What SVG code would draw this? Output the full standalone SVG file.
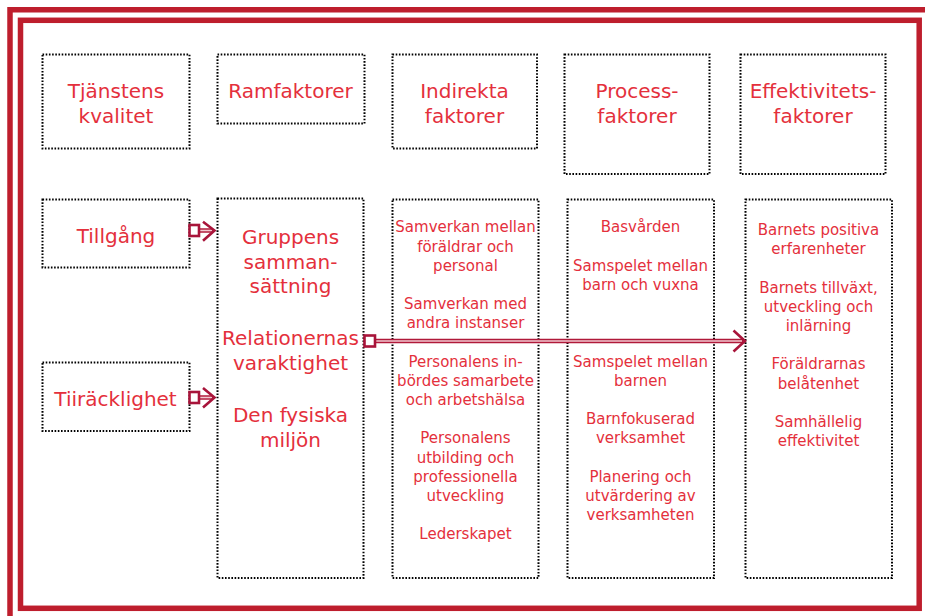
<svg xmlns="http://www.w3.org/2000/svg" width="925" height="616" viewBox="0 0 925 616">
<defs>
<style>
.frame{fill:none;stroke:#be1e2d;stroke-width:5.5}
.box{fill:none;stroke:#000;stroke-width:2;stroke-dasharray:1.6 1.6}
.t{font-family:"DejaVu Sans",sans-serif;fill:#e4303c;text-anchor:middle}
.h{font-size:20px}
.s{font-size:15px}
.ln-o{fill:none;stroke:#b0193a;stroke-width:4.5}
.ln-i{fill:none;stroke:#f2c9d1;stroke-width:1.6}
.sq{fill:#fff;stroke:#a8143a;stroke-width:2.6}
.chev{fill:none;stroke:#a8143a;stroke-width:2.6;stroke-linejoin:miter}
</style>
</defs>
<rect width="925" height="616" fill="#fff"/>
<path class="frame" d="M10,616 V9.8 H925"/>
<rect class="frame" x="20.5" y="20.3" width="898.7" height="588"/>

<g id="n-tjanstens">
<rect class="box" x="42.5" y="54.5" width="147" height="94"/>
<text class="t h" x="116" y="98.3">Tjänstens</text>
<text class="t h" x="116" y="123.3">kvalitet</text>
</g>
<g id="n-ramfaktorer">
<rect class="box" x="217.5" y="54.5" width="147" height="69"/>
<text class="t h" x="290.5" y="98.3">Ramfaktorer</text>
</g>
<g id="n-indirekta">
<rect class="box" x="392.5" y="54.5" width="144.5" height="94"/>
<text class="t h" x="464.5" y="98.3">Indirekta</text>
<text class="t h" x="464.5" y="123.3">faktorer</text>
</g>
<g id="n-process">
<rect class="box" x="564.5" y="54.5" width="145" height="119.5"/>
<text class="t h" x="637" y="98.3">Process-</text>
<text class="t h" x="637" y="123.3">faktorer</text>
</g>
<g id="n-effektivitet">
<rect class="box" x="740.5" y="54.5" width="145" height="119.5"/>
<text class="t h" x="813" y="98.3">Effektivitets-</text>
<text class="t h" x="813" y="123.3">faktorer</text>
</g>

<g id="n-tillgang">
<rect class="box" x="42.5" y="199.5" width="147" height="68"/>
<text class="t h" x="116" y="243.3">Tillgång</text>
</g>
<g id="n-tillracklighet">
<rect class="box" x="42.5" y="362.5" width="147" height="68.5"/>
<text class="t h" x="115.5" y="406">Tiiräcklighet</text>
</g>

<g id="n-ram-col">
<rect class="box" x="217.5" y="198.5" width="146" height="379.5"/>
<text class="t h" x="290.5" y="244">Gruppens</text>
<text class="t h" x="290.5" y="268.5">samman-</text>
<text class="t h" x="290.5" y="293">sättning</text>
<text class="t h" x="290.5" y="345">Relationernas</text>
<text class="t h" x="290.5" y="370">varaktighet</text>
<text class="t h" x="290.5" y="421.5">Den fysiska</text>
<text class="t h" x="290.5" y="446.5">miljön</text>
</g>

<g id="n-indirekta-col">
<rect class="box" x="392.5" y="199.5" width="146" height="378.5"/>
<text class="t s" x="465.5" y="232.3">Samverkan mellan</text>
<text class="t s" x="465.5" y="251.5">föräldrar och</text>
<text class="t s" x="465.5" y="270.7">personal</text>
<text class="t s" x="465.5" y="309.1">Samverkan med</text>
<text class="t s" x="465.5" y="328.3">andra instanser</text>
<text class="t s" x="465.5" y="366.5">Personalens in-</text>
<text class="t s" x="465.5" y="385.7">bördes samarbete</text>
<text class="t s" x="465.5" y="404.9">och arbetshälsa</text>
<text class="t s" x="465.5" y="443.3">Personalens</text>
<text class="t s" x="465.5" y="462.5">utbilding och</text>
<text class="t s" x="465.5" y="481.7">professionella</text>
<text class="t s" x="465.5" y="500.9">utveckling</text>
<text class="t s" x="465.5" y="539.3">Lederskapet</text>
</g>

<g id="n-process-col">
<rect class="box" x="567.5" y="199.5" width="146.5" height="378.5"/>
<text class="t s" x="640.5" y="232.3">Basvården</text>
<text class="t s" x="640.5" y="270.7">Samspelet mellan</text>
<text class="t s" x="640.5" y="289.9">barn och vuxna</text>
<text class="t s" x="640.5" y="366.5">Samspelet mellan</text>
<text class="t s" x="640.5" y="385.7">barnen</text>
<text class="t s" x="640.5" y="424.1">Barnfokuserad</text>
<text class="t s" x="640.5" y="443.3">verksamhet</text>
<text class="t s" x="640.5" y="481.7">Planering och</text>
<text class="t s" x="640.5" y="500.9">utvärdering av</text>
<text class="t s" x="640.5" y="520.1">verksamheten</text>
</g>

<g id="n-effektivitet-col">
<rect class="box" x="745.5" y="199.5" width="146.5" height="378.5"/>
<text class="t s" x="818.5" y="235">Barnets positiva</text>
<text class="t s" x="818.5" y="254.2">erfarenheter</text>
<text class="t s" x="818.5" y="292.6">Barnets tillväxt,</text>
<text class="t s" x="818.5" y="311.8">utveckling och</text>
<text class="t s" x="818.5" y="331">inlärning</text>
<text class="t s" x="818.5" y="369.4">Föräldrarnas</text>
<text class="t s" x="818.5" y="388.6">belåtenhet</text>
<text class="t s" x="818.5" y="427">Samhällelig</text>
<text class="t s" x="818.5" y="446.2">effektivitet</text>
</g>

<g id="connectors">
<g id="c-tillgang">
<line class="ln-o" x1="199" y1="230.5" x2="213" y2="230.5"/>
<line class="ln-i" x1="199" y1="230.5" x2="212" y2="230.5"/>
<polyline class="chev" points="203,221.8 214.5,230.5 203,240.8"/>
<rect class="sq" x="189.5" y="225" width="9.5" height="11"/>
</g>
<g id="c-tillracklighet">
<line class="ln-o" x1="199" y1="397.5" x2="213" y2="397.5"/>
<line class="ln-i" x1="199" y1="397.5" x2="212" y2="397.5"/>
<polyline class="chev" points="203,388 214.5,397.5 203,407.5"/>
<rect class="sq" x="189.5" y="392" width="9.5" height="11"/>
</g>
<g id="c-long">
<line class="ln-o" x1="375" y1="341" x2="743" y2="341"/>
<line class="ln-i" x1="375" y1="341" x2="742" y2="341"/>
<polyline class="chev" points="733.5,330.5 745,341 733.5,351.5"/>
<rect class="sq" x="364.5" y="335.5" width="10.5" height="11"/>
</g>
</g>
</svg>
